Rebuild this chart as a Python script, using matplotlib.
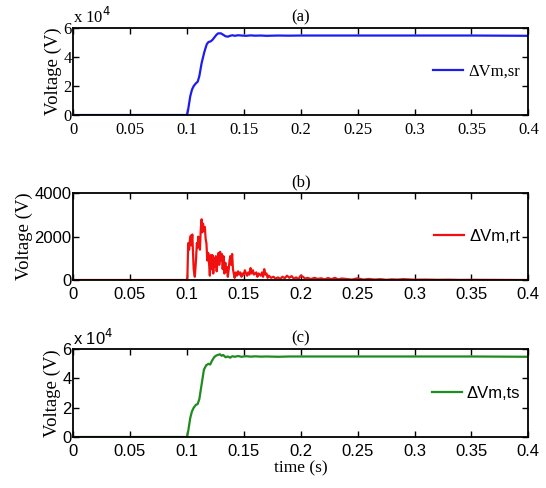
import matplotlib
matplotlib.use("Agg")
import matplotlib.pyplot as plt
from matplotlib.ticker import FuncFormatter, MultipleLocator

# ---- data --------------------------------------------------------------------
t_sr = [0, 0.1, 0.101, 0.102, 0.103, 0.1045, 0.106, 0.108, 0.1095, 0.111,
        0.113, 0.1155, 0.1175, 0.119, 0.121, 0.1225, 0.124, 0.126, 0.1275,
        0.13, 0.132, 0.134, 0.136, 0.138, 0.14, 0.142, 0.145, 0.148, 0.152,
        0.156, 0.16, 0.165, 0.17, 0.18, 0.19, 0.2, 0.25, 0.3, 0.35, 0.4]
v_sr = [0, 0, 3000, 8000, 13000, 17500, 20000, 22000, 23000, 27000,
        36000, 44000, 49000, 50500, 51000, 52000, 53500, 55500, 56500,
        56500, 55500, 54500, 54200, 54800, 55200, 54800, 55200, 55000, 54800,
        55100, 54900, 55000, 54800, 55000, 54900, 55000, 55000, 55000, 55000,
        54800]

t_rt = [0, 0.1, 0.1005, 0.1012, 0.102, 0.1028, 0.1035, 0.104, 0.1048, 0.1055,
        0.106, 0.107, 0.108, 0.1088, 0.1095, 0.110, 0.1108, 0.1115, 0.1122,
        0.113, 0.1136, 0.1142, 0.115, 0.1158, 0.1165, 0.1172, 0.118, 0.1188,
        0.1195, 0.1202, 0.121, 0.1218, 0.1225, 0.1232, 0.124, 0.1248, 0.1255,
        0.1262, 0.127, 0.1278, 0.1285, 0.1292, 0.13, 0.1308, 0.1315, 0.1322,
        0.133, 0.1338, 0.1345, 0.1352, 0.136, 0.1368, 0.1375, 0.1382, 0.139,
        0.1398, 0.1405, 0.1412, 0.142, 0.143, 0.144, 0.145, 0.146, 0.147,
        0.148, 0.149, 0.150, 0.151, 0.152, 0.153, 0.154, 0.155, 0.156,
        0.157, 0.158, 0.159, 0.160, 0.161, 0.162, 0.163, 0.164, 0.165,
        0.166, 0.167, 0.168, 0.169, 0.170, 0.171, 0.172, 0.174, 0.176,
        0.178, 0.180, 0.182, 0.184, 0.186, 0.188, 0.190, 0.192, 0.194,
        0.196, 0.198, 0.200, 0.202, 0.204, 0.206, 0.209, 0.212, 0.215,
        0.218, 0.221, 0.224, 0.227, 0.230, 0.233, 0.236, 0.240, 0.245,
        0.250, 0.255, 0.260, 0.265, 0.270, 0.275, 0.280, 0.285, 0.290,
        0.300, 0.310, 0.320, 0.330, 0.340, 0.350, 0.370, 0.400]
v_rt = [0, 0, 150, 1700, 1400, 1900, 2050, 1600, 2100, 1200,
        500, 150, 900, 1700, 1500, 2000, 1700, 1400, 2300,
        2800, 2200, 2600, 2300, 2450, 1900, 1700, 900, 1250,
        800, 200, 1150, 500, 1150, 300, 1000, 600, 1100,
        400, 900, 1250, 700, 1300, 900, 1200, 500, 1100,
        300, 800, 400, 600, 150, 500, 900, 1100, 700,
        1200, 500, 300, 100, 350, 200, 400, 250, 350,
        150, 300, 250, 450, 300, 200, 350, 250, 550,
        300, 450, 250, 300, 350, 150, 300, 250, 200,
        350, 150, 500, 250, 300, 100, 200, 100, 150,
        60, 120, 50, 150, 80, 200, 100, 180, 60,
        120, 40, 200, 150, 60, 100, 40, 100, 50,
        80, 30, 90, 40, 100, 30, 70, 50, 20,
        80, 20, 50, 20, 40, 10, 30, 20, 40,
        15, 20, 10, 15, 5, 10, 5, 0]

t_ts = [0, 0.1, 0.101, 0.102, 0.103, 0.1045, 0.106, 0.108, 0.1095, 0.111,
        0.113, 0.115, 0.117, 0.119, 0.1205, 0.122, 0.124, 0.1255, 0.127,
        0.129, 0.1305, 0.132, 0.134, 0.136, 0.138, 0.14, 0.142, 0.145, 0.148,
        0.152, 0.156, 0.16, 0.165, 0.17, 0.18, 0.19, 0.2, 0.25, 0.3, 0.35, 0.4]
v_ts = [0, 0, 3000, 8000, 13000, 17500, 20000, 22000, 22500, 26000,
        36000, 46000, 49000, 50000, 49500, 52000, 54500, 55500, 56000,
        56500, 55500, 56000, 54500, 55000, 54200, 55200, 54800, 55300, 54800,
        55200, 54900, 55100, 54900, 55000, 54800, 55000, 55000, 55000, 55000,
        55000, 54800]

XTICKS = [0, 0.05, 0.1, 0.15, 0.2, 0.25, 0.3, 0.35, 0.4]

SERIF = ["Liberation Serif", "DejaVu Serif"]
SANS = ["Liberation Sans", "DejaVu Sans"]

fig = plt.figure(figsize=(5.46, 4.88), dpi=100)
boxes = [(0.1337, 0.7643, 0.834, 0.1777),
         (0.1337, 0.4262, 0.834, 0.1777),
         (0.1337, 0.1045, 0.834, 0.180)]

panels = [
    ("(a)", t_sr, v_sr, "#1c1cf0", "ΔVm,sr", SERIF, True),
    ("(b)", t_rt, v_rt, "#f01010", "ΔVm,rt", SANS, False),
    ("(c)", t_ts, v_ts, "#1e8c1e", "ΔVm,ts", SANS, True),
]

for box, (title, t, v, col, lab, tfam, scaled) in zip(boxes, panels):
    ax = fig.add_axes(box)
    ax.plot(t, v, color=col, lw=1.6, label=lab)
    ax.set_xlim(0, 0.4)
    ax.set_xticks(XTICKS)
    ax.set_xticklabels([f"{x:g}" for x in XTICKS], family=tfam, fontsize=12)
    if scaled:
        ax.set_ylim(0, 60000)
        ax.yaxis.set_major_locator(MultipleLocator(20000))
        ax.yaxis.set_major_formatter(FuncFormatter(lambda y, p: f"{y/1e4:g}"))
        ax.text(0.0, 1.01, "x 10$^4$", transform=ax.transAxes, fontsize=12,
                family=tfam, ha="left", va="bottom")
    else:
        ax.set_ylim(0, 4000)
        ax.yaxis.set_major_locator(MultipleLocator(2000))
    for lbl in ax.get_yticklabels():
        lbl.set_family(tfam)
        lbl.set_fontsize(12)
    ax.tick_params(direction="in", top=True, right=True, length=4,
                   width=1.0, pad=5)
    ax.tick_params(axis="y", pad=1)
    for sp in ax.spines.values():
        sp.set_linewidth(1.3)
    ax.set_ylabel("Voltage (V)", family=SERIF, fontsize=13.5, labelpad=1)
    ax.set_title(title, family=SERIF, fontsize=12, pad=5)
    ax.legend(loc="center right", frameon=False, handlelength=1.8,
              handletextpad=0.3, borderaxespad=0.1,
              prop={"family": tfam, "size": 12})

fig.axes[-1].set_xlabel("time (s)", family=SERIF, fontsize=12.5, labelpad=1)

fig.savefig("out.png", dpi=100, facecolor="white")
